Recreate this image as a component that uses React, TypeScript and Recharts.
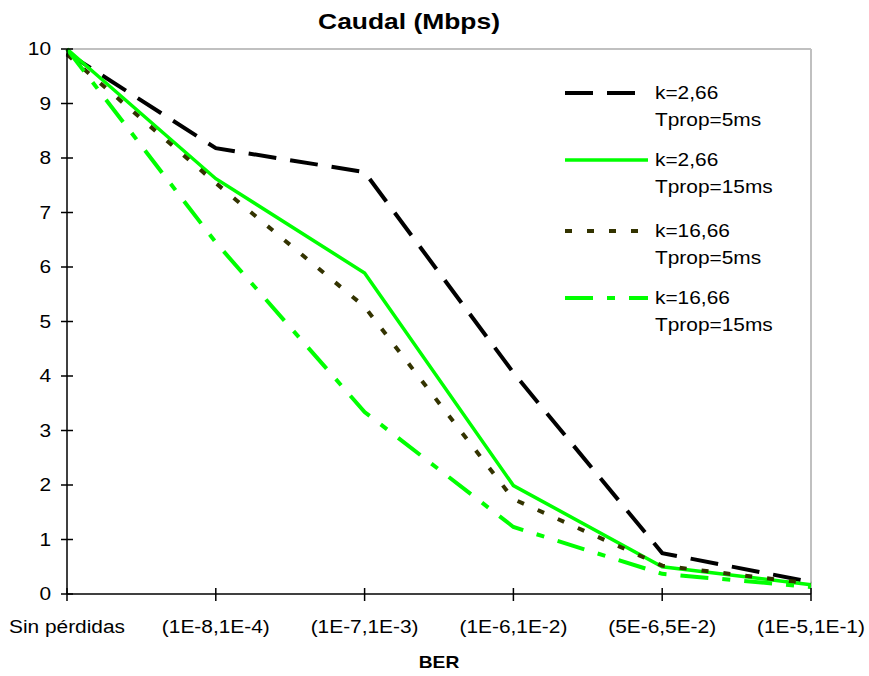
import { LineChart, Line, XAxis, YAxis, Legend, ReferenceLine } from "recharts";

const categories = [
  "Sin pérdidas",
  "(1E-8,1E-4)",
  "(1E-7,1E-3)",
  "(1E-6,1E-2)",
  "(5E-6,5E-2)",
  "(1E-5,1E-1)",
];

const k266_5ms = [9.93, 8.18, 7.74, 4.06, 0.75, 0.22];
const k266_15ms = [10.0, 7.62, 5.89, 1.99, 0.5, 0.17];
const k1666_5ms = [9.9, 7.54, 5.27, 1.74, 0.52, 0.19];
const k1666_15ms = [10.0, 6.45, 3.34, 1.23, 0.37, 0.13];

const yTicks = [0, 1, 2, 3, 4, 5, 6, 7, 8, 9, 10];

const SERIES = [
  { key: "a", line1: "k=2,66", line2: "Tprop=5ms", color: "#000000", dash: "28 14", values: k266_5ms },
  { key: "b", line1: "k=2,66", line2: "Tprop=15ms", color: "#00ff00", dash: undefined, values: k266_15ms },
  { key: "c", line1: "k=16,66", line2: "Tprop=5ms", color: "#333300", dash: "7 15", values: k1666_5ms },
  { key: "d", line1: "k=16,66", line2: "Tprop=15ms", color: "#00ff00", dash: "28 14 8 14", values: k1666_15ms },
];

const data = categories.map((name, i) => {
  const row: Record<string, string | number> = { name };
  SERIES.forEach((s) => {
    row[s.key] = s.values[i];
  });
  return row;
});

const FONT = "'Liberation Sans', Arial, sans-serif";
const SX = 1.16;
const FS = 18;

const YTick = (props: any) => {
  const { x, y, payload } = props;
  return (
    <g>
      <line x1={x - 6} x2={x + 6} y1={y} y2={y} stroke="#000" strokeWidth={1.5} />
      <g transform={`translate(${x - 16},${y}) scale(${SX},1)`}>
        <text textAnchor="end" dominantBaseline="central" fontSize={FS} fontFamily={FONT} fill="#000">
          {payload.value}
        </text>
      </g>
    </g>
  );
};

const XTick = (props: any) => {
  const { x, y, payload } = props;
  return (
    <g>
      <line x1={x} x2={x} y1={y - 6} y2={y + 7} stroke="#000" strokeWidth={1.5} />
      <g transform={`translate(${x},${y + 33}) scale(${SX},1)`}>
        <text textAnchor="middle" dominantBaseline="central" fontSize={FS} fontFamily={FONT} fill="#000">
          {payload.value}
        </text>
      </g>
    </g>
  );
};

const BerLabel = (props: any) => {
  const vb = props.viewBox || { x: 67, y: 594, width: 744 };
  return (
    <g transform={`translate(${vb.x + vb.width / 2},${vb.y + 69}) scale(1.2,1)`}>
      <text textAnchor="middle" dominantBaseline="central" fontSize={16} fontWeight="bold" fontFamily={FONT} fill="#000">
        BER
      </text>
    </g>
  );
};

const renderLegend = () => {
  const rows = [18, 85, 156, 223];
  return (
    <svg width={250} height={270} style={{ display: "block", overflow: "visible" }}>
      {SERIES.map((s, i) => (
        <g key={s.key}>
          <line
            x1={5}
            x2={88}
            y1={rows[i]}
            y2={rows[i]}
            stroke={s.color}
            strokeWidth={s.key === "b" ? 3.5 : 4}
            strokeDasharray={s.dash}
          />
          <g transform={`translate(95,${rows[i]}) scale(${SX},1)`}>
            <text dominantBaseline="central" fontSize={FS} fontFamily={FONT} fill="#000">
              {s.line1}
            </text>
          </g>
          <g transform={`translate(95,${rows[i] + 27}) scale(${SX},1)`}>
            <text dominantBaseline="central" fontSize={FS} fontFamily={FONT} fill="#000">
              {s.line2}
            </text>
          </g>
        </g>
      ))}
    </svg>
  );
};

export default function App() {
  return (
    <div style={{ position: "absolute", left: 0, top: 0, width: 869, height: 676, background: "#fff" }}>
      <div
        style={{
          position: "absolute",
          left: 0,
          top: 11,
          width: 818,
          textAlign: "center",
          fontFamily: FONT,
          fontWeight: "bold",
          fontSize: 22,
          lineHeight: "22px",
          transform: "scaleX(1.2)",
          transformOrigin: "409px 0",
        }}
      >
        Caudal (Mbps)
      </div>
      <LineChart width={869} height={676} data={data} margin={{ top: 49, right: 58, bottom: 0, left: 0 }}>
        <ReferenceLine y={10} stroke="#c0c0c0" strokeWidth={2} ifOverflow="extendDomain" />
        <ReferenceLine x={categories[categories.length - 1]} stroke="#c0c0c0" strokeWidth={2} />
        <XAxis
          dataKey="name"
          type="category"
          height={82}
          padding={{ left: 0, right: 0 }}
          interval={0}
          tickSize={0}
          tickMargin={0}
          tickLine={false}
          axisLine={{ stroke: "#000", strokeWidth: 1.5 }}
          tick={<XTick />}
          label={<BerLabel />}
        />
        <YAxis
          type="number"
          domain={[0, 10]}
          ticks={yTicks}
          interval={0}
          width={67}
          tickSize={0}
          tickMargin={0}
          tickLine={false}
          axisLine={{ stroke: "#000", strokeWidth: 1.5 }}
          tick={<YTick />}
        />
        {SERIES.map((s) => (
          <Line
            key={s.key}
            type="linear"
            dataKey={s.key}
            name={`${s.line1} ${s.line2}`}
            stroke={s.color}
            strokeWidth={s.key === "b" ? 3.5 : 4}
            strokeDasharray={s.dash}
            dot={false}
            activeDot={false}
            isAnimationActive={false}
          />
        ))}
        <Legend
          layout="horizontal"
          verticalAlign="middle"
          align="center"
          content={renderLegend}
          wrapperStyle={{ left: 560, top: 75, width: 250, height: 270 }}
        />
      </LineChart>
    </div>
  );
}
